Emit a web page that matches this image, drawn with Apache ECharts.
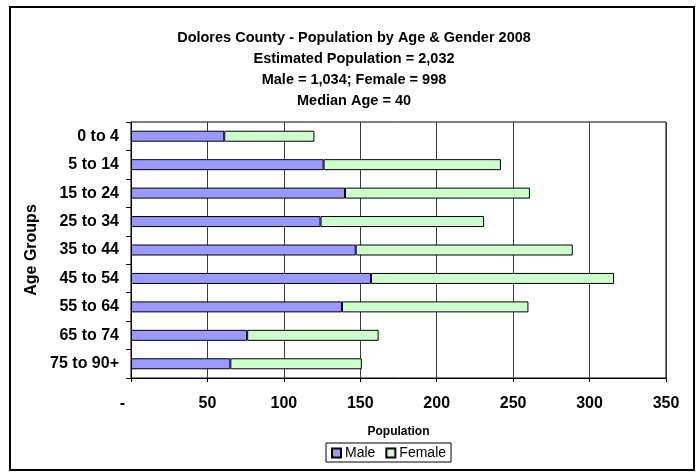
<!DOCTYPE html>
<html>
<head>
<meta charset="utf-8">
<script src="https://cdn.jsdelivr.net/npm/echarts@6/dist/echarts.min.js"></script>
<style>
  html, body { margin: 0; padding: 0; background: #fff; }
  #chart { width: 700px; height: 472px; }
</style>
</head>
<body>
<div id="chart"></div>
<script>
// Age groups, top to bottom
const ageGroups = ['0 to 4', '5 to 14', '15 to 24', '25 to 34', '35 to 44',
                   '45 to 54', '55 to 64', '65 to 74', '75 to 90+'];
// Population counts per age group
const male   = [61, 126, 140, 124, 147, 157, 138, 76, 65];
const female = [59, 116, 121, 107, 142, 159, 122, 86, 86];
// Population axis ticks
const popMin = 0, popMax = 350, popStep = 50;

const titleLines = [
  'Dolores County - Population by Age & Gender 2008',
  'Estimated Population = 2,032',
  'Male = 1,034; Female = 998',
  'Median Age = 40'
];

const FONT = '"Liberation Sans", Arial, Helvetica, sans-serif';
const chart = echarts.init(document.getElementById('chart'), null, { renderer: 'canvas' });

chart.setOption({
  animation: false,
  backgroundColor: '#fff',
  textStyle: { fontFamily: FONT },
  title: {
    text: titleLines.join('\n'),
    left: 349,
    textAlign: 'center',
    top: 22,
    textStyle: { fontFamily: FONT, fontSize: 14.5, fontWeight: 'bold', color: '#000', lineHeight: 21 }
  },
  graphic: [{
    type: 'rect',
    shape: { x: 10, y: 7, width: 684, height: 463 },
    style: { fill: 'none', stroke: '#000', lineWidth: 2 },
    z: 100
  }],
  legend: {
    data: ['Male', 'Female'],
    left: 326,
    top: 443,
    orient: 'horizontal',
    itemWidth: 9,
    itemHeight: 9,
    itemGap: 10,
    padding: [3, 5, 2, 5],
    borderColor: '#000',
    borderWidth: 1,
    icon: 'rect',
    textStyle: { fontFamily: FONT, fontSize: 14, color: '#000', padding: [0, 0, 0, -1] }
  },
  grid: {
    left: 131, right: 34, top: 122, bottom: 94,
    show: true,
    borderColor: '#000',
    borderWidth: 1,
    containLabel: false
  },
  xAxis: {
    type: 'value',
    min: popMin, max: popMax, interval: popStep,
    name: 'Population',
    nameLocation: 'middle',
    nameGap: 48,
    nameTextStyle: { fontFamily: FONT, fontSize: 12, fontWeight: 'bold', color: '#000' },
    axisLine: { show: true, lineStyle: { color: '#000', width: 1 } },
    axisTick: { show: true, length: 4, lineStyle: { color: '#000' } },
    axisLabel: {
      margin: 18,
      fontFamily: FONT, fontSize: 16, fontWeight: 'bold', color: '#000',
      formatter: v => (v === 0 ? '{d|-}' : String(v)),
      rich: { d: { fontFamily: FONT, fontSize: 16, fontWeight: 'bold', color: '#000', padding: [0, 17, 0, 0] } }
    },
    splitLine: { show: true, lineStyle: { color: '#3a3a3a', width: 1 } }
  },
  yAxis: {
    type: 'category',
    data: ageGroups,
    inverse: true,
    name: 'Age Groups',
    nameLocation: 'middle',
    nameRotate: 90,
    nameGap: 90,
    nameTextStyle: { fontFamily: FONT, fontSize: 16, fontWeight: 'bold', color: '#000' },
    axisLine: { show: true, lineStyle: { color: '#000', width: 1 } },
    axisTick: { show: true, length: 5, alignWithLabel: false, lineStyle: { color: '#000' } },
    axisLabel: { margin: 12, fontFamily: FONT, fontSize: 16, fontWeight: 'bold', color: '#000' },
    splitLine: { show: false }
  },
  series: [
    {
      name: 'Male', type: 'bar', stack: 'pop', data: male, barWidth: 11,
      itemStyle: { color: '#9999FF', borderColor: '#000', borderWidth: 1 }
    },
    {
      name: 'Female', type: 'bar', stack: 'pop', data: female, barWidth: 11,
      itemStyle: { color: '#CCFFCC', borderColor: '#000', borderWidth: 1 }
    }
  ]
});
</script>
</body>
</html>
